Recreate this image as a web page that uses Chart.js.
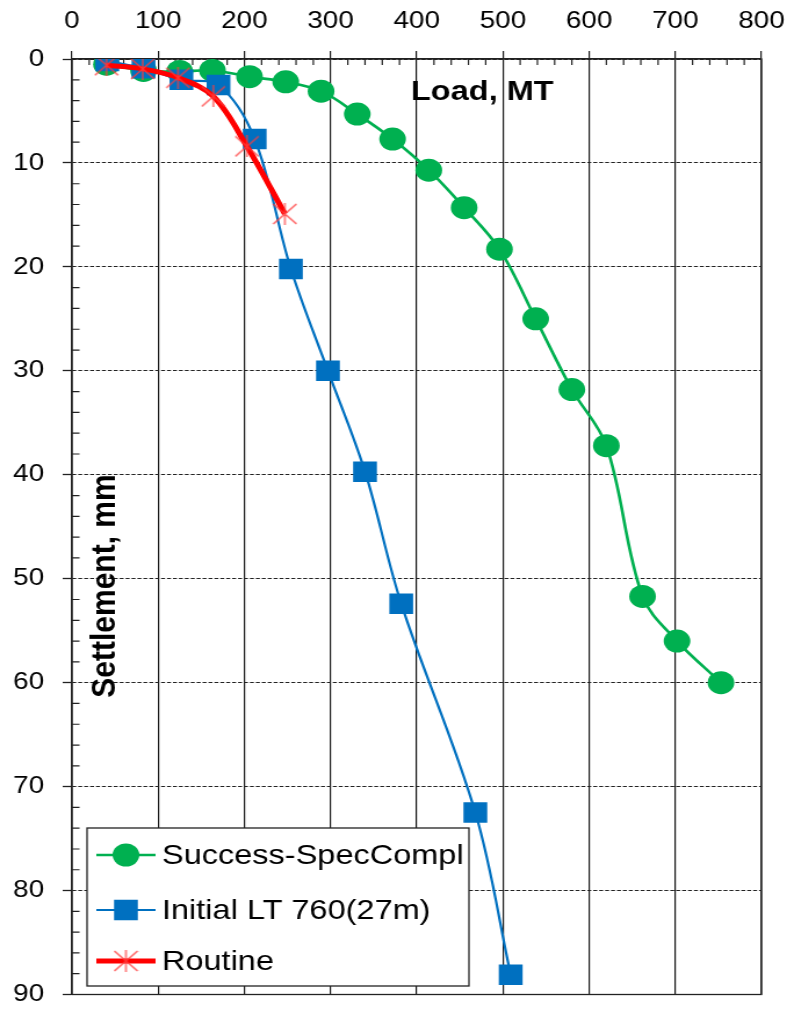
<!DOCTYPE html>
<html><head><meta charset="utf-8">
<script src="https://cdn.jsdelivr.net/npm/chart.js@4"></script>
<style>
html,body{margin:0;padding:0;background:#fff;overflow:hidden;}
#wrap{width:678px;height:1009px;transform:scale(1.1608,1);transform-origin:0 0;}
canvas{display:block;}
</style></head><body>
<div id="wrap"><canvas id="c" width="678" height="1009"></canvas></div>
<script>
// ---- data ----
const xTickValues = [0, 100, 200, 300, 400, 500, 600, 700, 800];
const xTickLabels = ['0','100','200','300','400','500','600','700','800'];
const yTickValues = [0, 10, 20, 30, 40, 50, 60, 70, 80, 90];
const yTickLabels = ['0','10','20','30','40','50','60','70','80','90'];

const successLoad   = [40, 83, 125, 163, 206, 248, 289, 331, 372, 414, 455, 496, 538, 580, 620, 662, 702, 753];
const successSettle = [0.5, 1.1, 1.2, 1.1, 1.7, 2.2, 3.1, 5.3, 7.7, 10.7, 14.3, 18.3, 25.0, 31.8, 37.2, 51.7, 56.0, 60.0];

const initialLoad   = [41, 83, 127, 170, 212, 254, 297, 340, 382, 468, 509];
const initialSettle = [0.2, 0.9, 2.0, 2.5, 7.7, 20.2, 30.0, 39.7, 52.4, 72.5, 88.1];

const routineLoad   = [40, 82, 123, 164, 203, 247];
const routineSettle = [0.6, 0.95, 1.8, 3.6, 8.4, 14.9];

const seriesNames = ['Success-SpecCompl', 'Initial LT 760(27m)', 'Routine'];
const xTitle = 'Load, MT';
const yTitle = 'Settlement, mm';

// ---- styles ----
const FONT = "'Liberation Sans', Arial, sans-serif";
const GREEN = '#00b050', BLUE = '#0070c0', RED = '#ff0000';

function makeStar() {
  const c = document.createElement('canvas');
  c.width = 22; c.height = 22;
  const g = c.getContext('2d');
  g.strokeStyle = 'rgba(255,60,60,0.9)';
  g.lineWidth = 1.3;
  g.beginPath();
  g.moveTo(1,1); g.lineTo(21,21);
  g.moveTo(21,1); g.lineTo(1,21);
  g.moveTo(11,0); g.lineTo(11,22);
  g.stroke();
  return c;
}
const star = makeStar();

const toPts = (xs, ys) => xs.map((x, i) => ({x, y: ys[i]}));
const labelFor = (vals, labs, v) => { const k = vals.indexOf(v); return k < 0 ? '' : labs[k]; };

const decor = {
  id: 'decor',
  beforeDatasetsDraw(chart) {
    const {ctx, chartArea: a, scales: {x, y}} = chart;
    ctx.save();
    ctx.strokeStyle = '#222';
    ctx.lineWidth = 1.2;
    ctx.beginPath();
    for (let v = 20; v < 800; v += 20) {
      if (v % 100 === 0) continue;
      const px = x.getPixelForValue(v);
      ctx.moveTo(px, a.top); ctx.lineTo(px, a.top + 6);
    }
    for (let v = 2; v < 90; v += 2) {
      if (v % 10 === 0) continue;
      const py = y.getPixelForValue(v);
      ctx.moveTo(a.left, py); ctx.lineTo(a.left + 6.5, py);
    }
    ctx.stroke();
    ctx.lineWidth = 1.3;
    ctx.strokeRect(a.left, a.top, a.right - a.left, a.bottom - a.top);
    // axis titles
    ctx.fillStyle = '#000';
    ctx.font = 'bold 28px ' + FONT;
    ctx.textAlign = 'left';
    ctx.textBaseline = 'alphabetic';
    ctx.fillText(xTitle, 354, 100);
    ctx.translate(99, 586);
    ctx.rotate(-Math.PI / 2);
    ctx.textAlign = 'center';
    ctx.font = 'bold 30px ' + FONT;
    ctx.fillText(yTitle, 0, 0);
    ctx.restore();
  },
  afterDraw(chart) {
    const {ctx} = chart;
    ctx.save();
    ctx.fillStyle = '#fff';
    ctx.strokeStyle = '#222';
    ctx.lineWidth = 1.3;
    ctx.fillRect(75, 828, 329, 158);
    ctx.strokeRect(75, 828, 329, 158);
    const rows = [855, 910, 961];
    chart.data.datasets.forEach((ds, i) => {
      const yy = rows[i];
      ctx.strokeStyle = ds.borderColor;
      ctx.lineWidth = ds.borderWidth;
      ctx.beginPath(); ctx.moveTo(83, yy); ctx.lineTo(134, yy); ctx.stroke();
      if (ds.pointStyle === star) {
        ctx.drawImage(star, 108.5 - 11, yy - 11);
      } else {
        ctx.fillStyle = ds.pointBackgroundColor;
        ctx.beginPath();
        if (ds.pointStyle === 'circle') { ctx.arc(108.5, yy, ds.pointRadius, 0, Math.PI * 2); }
        else { const s = ds.pointRadius * Math.SQRT1_2; ctx.rect(108.5 - s, yy - s, 2 * s, 2 * s); }
        ctx.fill();
      }
      ctx.fillStyle = '#000';
      ctx.font = '28px ' + FONT;
      ctx.textAlign = 'left';
      ctx.textBaseline = 'middle';
      ctx.fillText(ds.label, 139.5, yy + 1);
    });
    ctx.restore();
  }
};

new Chart(document.getElementById('c'), {
  type: 'scatter',
  data: {
    datasets: [
      { label: seriesNames[0], data: toPts(successLoad, successSettle), showLine: true,
        borderColor: GREEN, borderWidth: 2.6, backgroundColor: GREEN,
        pointStyle: 'circle', pointRadius: 11.5, pointBackgroundColor: GREEN, pointBorderWidth: 0,
        tension: 0.35, order: 3 },
      { label: seriesNames[1], data: toPts(initialLoad, initialSettle), showLine: true,
        borderColor: BLUE, borderWidth: 2.2, backgroundColor: BLUE,
        pointStyle: 'rect', pointRadius: 14.5, pointBackgroundColor: BLUE, pointBorderWidth: 0,
        tension: 0.35, order: 2 },
      { label: seriesNames[2], data: toPts(routineLoad, routineSettle), showLine: true,
        borderColor: RED, borderWidth: 5, backgroundColor: RED,
        pointStyle: star, pointRadius: 11, pointBorderWidth: 0,
        tension: 0.35, order: 1 }
    ]
  },
  options: {
    responsive: false,
    animation: false,
    events: [],
    layout: { padding: { left: 0, top: 0, right: 22, bottom: 10 } },
    plugins: { legend: { display: false }, tooltip: { enabled: false } },
    scales: {
      x: {
        type: 'linear', position: 'top', min: 0, max: 800,
        afterFit(s) { s.height = 59; s.paddingLeft = 0; s.paddingRight = 0; },
        ticks: { stepSize: 100, color: '#000', padding: 15, font: { family: FONT, size: 24 },
                 callback: (v) => labelFor(xTickValues, xTickLabels, v) },
        grid: { color: '#1a1a1a', lineWidth: 1.2, tickLength: 8, tickColor: '#1a1a1a', tickWidth: 1.2 },
        border: { display: true, color: '#222', width: 1.3 }
      },
      y: {
        type: 'linear', reverse: true, min: 0, max: 90,
        afterFit(s) { s.width = 62; s.paddingTop = 0; s.paddingBottom = 0; },
        ticks: { stepSize: 10, color: '#000', padding: 16, font: { family: FONT, size: 24 },
                 callback: (v) => labelFor(yTickValues, yTickLabels, v) },
        grid: { color: '#222', lineWidth: 1, tickLength: 8, tickColor: '#222', tickWidth: 1.3 },
        border: { display: true, color: '#222', width: 1.3, dash: [3.4, 1.7] }
      }
    }
  },
  plugins: [decor]
});
</script>
</body></html>
